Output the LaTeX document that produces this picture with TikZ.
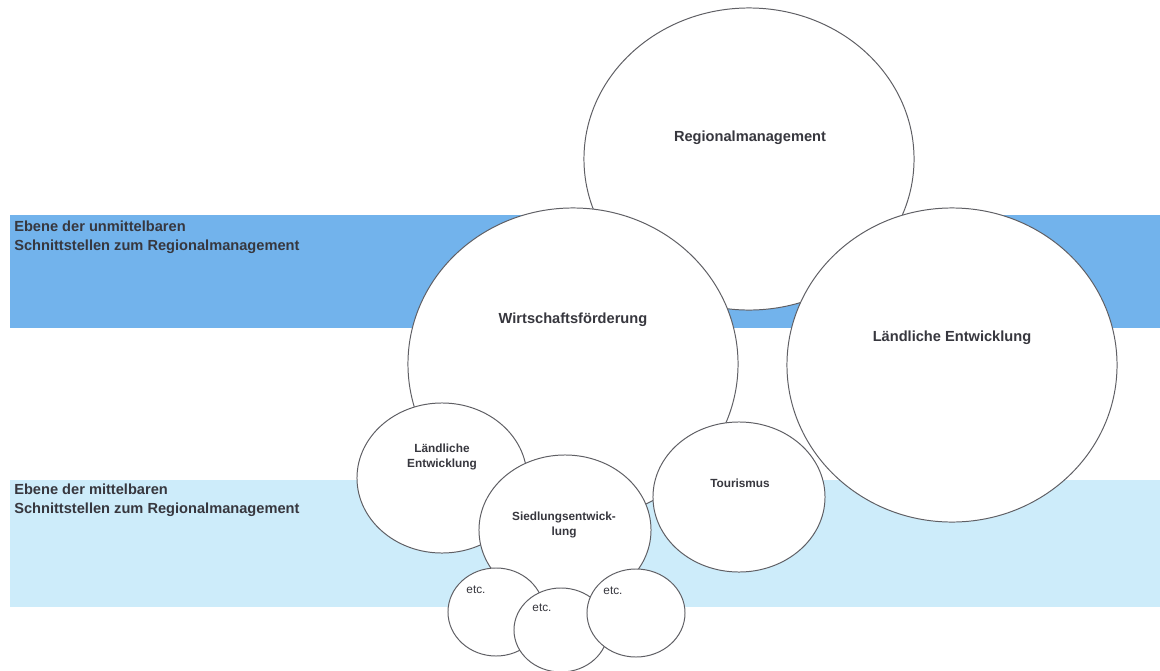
\documentclass[tikz,border=0pt]{standalone}
\usepackage{fontspec}
\setmainfont{Liberation Sans}
\usetikzlibrary{shapes.geometric}

\definecolor{bandDark}{RGB}{114,179,236}
\definecolor{bandLight}{RGB}{205,236,250}
\definecolor{rimGray}{RGB}{95,95,100}
\definecolor{txtGray}{RGB}{55,55,62}

\begin{document}
\begin{tikzpicture}[x=0.025cm, y=-0.025cm,
  bubble/.style={ellipse, draw=rimGray, line width=0.7pt, fill=white, inner sep=0pt, outer sep=0pt},
  bigtxt/.style={font=\bfseries\fontsize{10.4}{13.5}\selectfont, text=txtGray, inner sep=0pt},
  midtxt/.style={font=\bfseries\fontsize{8.4}{11}\selectfont, text=txtGray, align=center, inner sep=0pt},
  etctxt/.style={font=\fontsize{8.4}{10}\selectfont, text=txtGray, inner sep=0pt}]

% page frame (pixels of the reference)
\useasboundingbox (0,0) rectangle (1160,671);

% Controls
\def\bandL{10}
\def\bandR{1160}

% the two levels
\fill[bandDark]  (\bandL,215) rectangle (\bandR,328);
\fill[bandLight] (\bandL,480) rectangle (\bandR,607);
\node[bigtxt, anchor=north west, align=left] (upLbl) at (14,221)
  {Ebene der unmittelbaren\\Schnittstellen zum Regionalmanagement};
\node[bigtxt, anchor=north west, align=left] (lowLbl) at (14,484)
  {Ebene der mittelbaren\\Schnittstellen zum Regionalmanagement};

% big circles
\node[bubble, minimum width=8.25cm, minimum height=7.55cm] (rm) at (749,159) {};
\node[bubble, minimum width=8.25cm, minimum height=7.8cm]  (wf) at (573,364) {};
\node[bubble, minimum width=8.25cm, minimum height=7.85cm] (le) at (952,365) {};
\node[bigtxt] (rmTxt) at (750,138) {Regionalmanagement};
\node[bigtxt] (wfTxt) at (573,320) {Wirtschaftsförderung};
\node[bigtxt] (leTxt) at (952,338) {Ländliche Entwicklung};

% middle circles
\node[bubble, minimum width=4.25cm, minimum height=3.75cm] (le2) at (442,478) {};
\node[bubble, minimum width=4.3cm,  minimum height=3.75cm] (sied) at (565,530) {};
\node[bubble, minimum width=4.3cm,  minimum height=3.75cm] (tour) at (739,497) {};
\node[midtxt] (le2Txt) at (442,457) {Ländliche\\Entwicklung};
\node[midtxt] (siedTxt) at (564,525) {Siedlungsentwick-\\lung};
\node[midtxt] (tourTxt) at (740,483) {Tourismus};

% small circles
\node[bubble, minimum width=2.4cm,  minimum height=2.2cm] (etcA) at (496,612) {};
\node[bubble, minimum width=2.35cm, minimum height=2.1cm] (etcB) at (561,630) {};
\node[bubble, minimum width=2.45cm, minimum height=2.2cm] (etcC) at (636,613) {};
\node[etctxt] (etcATxt) at (476,590) {etc.};
\node[etctxt] (etcBTxt) at (542,608) {etc.};
\node[etctxt] (etcCTxt) at (613,591) {etc.};

\end{tikzpicture}
\end{document}
